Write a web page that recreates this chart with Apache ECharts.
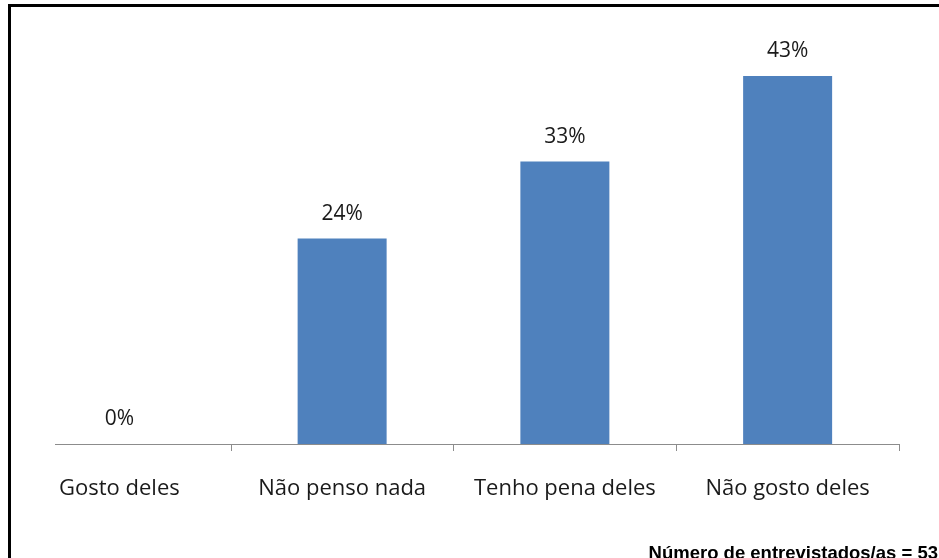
<!DOCTYPE html>
<html><head><meta charset="utf-8">
<script src="https://cdn.jsdelivr.net/npm/echarts@6/dist/echarts.min.js"></script>
<style>html,body{margin:0;padding:0;background:#fff}#c{width:939px;height:558px}</style>
</head><body><div id="c"></div>
<script>
const categories = ['Gosto deles', 'Não penso nada', 'Tenho pena deles', 'Não gosto deles'];
const values = [0, 24, 33, 43];
const footnote = 'Número de entrevistados/as = 53';

const chart = echarts.init(document.getElementById('c'), null, {renderer: 'canvas'});
const FONT = '"Open Sans", Lato, sans-serif';
function graphics(baseY) {
  const g = [
    {type: 'text', right: 1, top: 544, style: {text: footnote, font: 'bold 18.5px "Liberation Sans", Arial, sans-serif', fill: '#000'}},
    {type: 'rect', shape: {x: 9.5, y: 5.5, width: 1200, height: 1200}, style: {fill: null, stroke: '#000', lineWidth: 3}, z: 100}
  ];
  if (baseY != null) {
    g.push({type: 'line', shape: {x1: 55, y1: baseY, x2: 939 - 40, y2: baseY}, style: {stroke: '#8c8c8c', lineWidth: 1}, z: 50});
  }
  return g;
}
const option = {
  animation: false,
  backgroundColor: '#ffffff',
  grid: {left: 8, right: 40, top: 16, bottom: 114, containLabel: false},
  xAxis: {
    type: 'category',
    data: categories,
    axisLine: {show: false},
    axisTick: {show: true, length: 7, lineStyle: {color: '#8c8c8c', width: 1}},
    axisLabel: {color: '#1a1a1a', fontFamily: FONT, fontSize: 22, margin: 34, interval: 0}
  },
  yAxis: {type: 'value', min: 0, max: 50, show: false, splitLine: {show: false}},
  series: [{
    type: 'bar',
    data: values,
    barWidth: 89,
    itemStyle: {color: '#4F81BD'},
    label: {show: true, position: 'top', distance: 14, formatter: '{c}%', color: '#1a1a1a', fontFamily: FONT, fontSize: 21}
  }],
  graphic: graphics(null)
};
chart.setOption(option);
const p0 = chart.convertToPixel({xAxisIndex: 0, yAxisIndex: 0}, [0, 0]);
chart.setOption({graphic: graphics(Math.round(p0[1]) + 0.5)});
</script></body></html>
